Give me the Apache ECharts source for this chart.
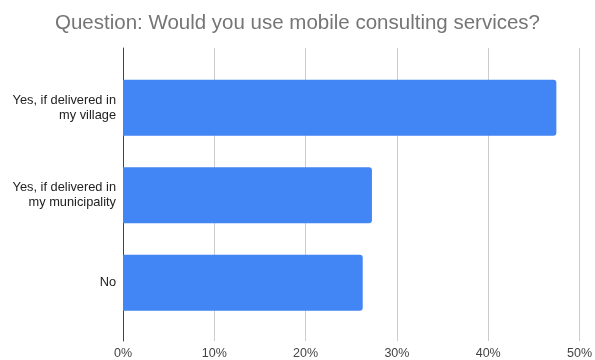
<!DOCTYPE html>
<html><head><meta charset="utf-8">
<script src="https://cdn.jsdelivr.net/npm/echarts@6/dist/echarts.min.js"></script>
<style>html,body{margin:0;padding:0;background:#fff}#c{width:595px;height:360px}</style>
</head><body><div id="c"></div>
<script>
const categories = ["Yes, if delivered in\nmy village", "Yes, if delivered in\nmy municipality", "No"];
const values = [47, 27, 26];
const xTicks = [0, 10, 20, 30, 40, 50];
const titleText = "Question: Would you use mobile consulting services?";

const chart = echarts.init(document.getElementById('c'));
const L = 123, R = 595 - 584;
chart.setOption({
  animation: false,
  title: {
    text: titleText, left: 'center', top: 8,
    textStyle: { color: '#757575', fontSize: 20.5, fontWeight: 'normal', fontFamily: 'Liberation Sans, Arial, sans-serif' }
  },
  grid: [
    { left: L, right: R, top: 64, height: 262.5 },
    { left: L, right: R, top: 48, bottom: 360 - 342 }
  ],
  xAxis: [
    { gridIndex: 0, type: 'value', min: 0, max: 50, interval: 10, show: false },
    { gridIndex: 1, type: 'value', min: xTicks[0], max: xTicks[xTicks.length - 1], interval: 10,
      axisLine: { show: false }, axisTick: { show: false },
      splitLine: { show: true, lineStyle: { color: '#cccccc', width: 1 } },
      axisLabel: { formatter: v => v + '%', color: '#444', fontSize: 12.5, margin: 6, fontFamily: 'Liberation Sans, Arial, sans-serif' } }
  ],
  yAxis: [
    { gridIndex: 0, type: 'category', data: categories, inverse: true,
      axisLine: { show: false }, axisTick: { show: false }, splitLine: { show: false },
      axisLabel: { color: '#222', fontSize: 12.8, margin: 7, lineHeight: 15, align: 'right', fontFamily: 'Liberation Sans, Arial, sans-serif' } },
    { gridIndex: 1, type: 'value', min: 0, max: 1,
      axisLine: { show: true, lineStyle: { color: '#444', width: 1 } },
      axisTick: { show: false }, axisLabel: { show: false }, splitLine: { show: false } }
  ],
  series: [{
    type: 'bar', xAxisIndex: 0, yAxisIndex: 0, data: values, barWidth: 56,
    itemStyle: { color: '#4285F4', borderRadius: [0, 3, 3, 0] }, z: 3
  }]
});
</script></body></html>
